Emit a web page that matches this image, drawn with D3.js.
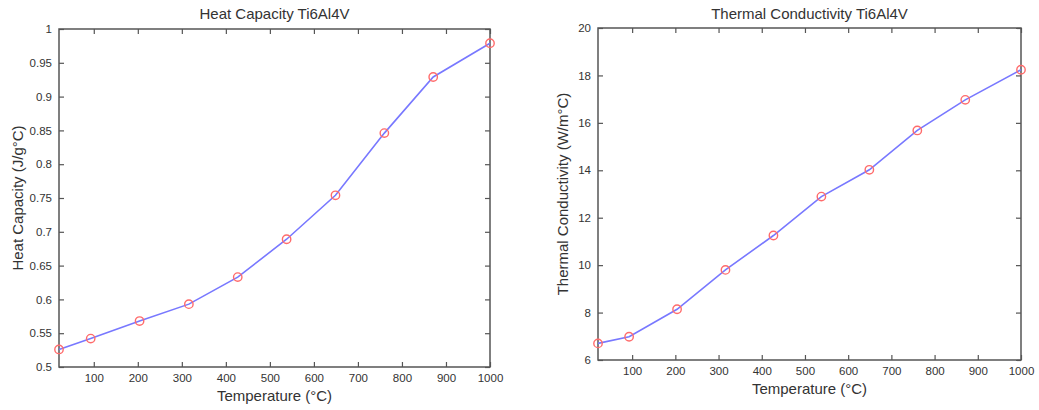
<!DOCTYPE html>
<html>
<head>
<meta charset="utf-8">
<script src="https://cdn.jsdelivr.net/npm/d3@7"></script>
<style>
  body { margin: 0; background: #fff; }
  svg { display: block; font-family: "Liberation Sans", Arial, sans-serif; }
</style>
</head>
<body>
<svg id="chart" width="1039" height="410"></svg>
<script>
// Temperatures (°C) at which the properties were tabulated
const temperatures = [21, 93, 204, 316, 427, 538, 649, 760, 871, 1000];
// Specific heat capacity of Ti6Al4V (J/g°C)
const heatCapacity = [0.526, 0.542, 0.568, 0.593, 0.633, 0.689, 0.754, 0.846, 0.929, 0.979];
// Thermal conductivity of Ti6Al4V (W/m°C)
const conductivity = [6.70, 6.98, 8.14, 9.80, 11.25, 12.89, 14.02, 15.68, 16.97, 18.24];

const xTicks = [100, 200, 300, 400, 500, 600, 700, 800, 900, 1000];
const heatTicks = [0.5, 0.55, 0.6, 0.65, 0.7, 0.75, 0.8, 0.85, 0.9, 0.95, 1];
const condTicks = [6, 8, 10, 12, 14, 16, 18, 20];

const svg = d3.select("#chart");
const axisColor = "#555";
const textColor = "#333";

function drawPanel(cfg) {
  const { left, right, top, bottom } = cfg.box;
  const x = d3.scaleLinear().domain([temperatures[0], 1000]).range([left, right]);
  const y = d3.scaleLinear().domain(cfg.yDomain).range([bottom, top]);
  const g = svg.append("g");
  const tick = 5;

  // Frame with inward ticks on all four sides
  g.append("rect")
    .attr("x", left).attr("y", top)
    .attr("width", right - left).attr("height", bottom - top)
    .attr("fill", "none").attr("stroke", axisColor).attr("stroke-width", 1.5);

  const bottomAxis = d3.axisBottom(x).tickValues(xTicks).tickSize(-tick).tickPadding(7).tickFormat(d3.format("d"));
  const topAxis = d3.axisTop(x).tickValues(xTicks).tickSize(-tick).tickFormat("");
  const leftAxis = d3.axisLeft(y).tickValues(cfg.yTicks).tickSize(-tick).tickPadding(7).tickFormat(d3.format("~g"));
  const rightAxis = d3.axisRight(y).tickValues(cfg.yTicks).tickSize(-tick).tickFormat("");

  const axes = [
    g.append("g").attr("transform", `translate(0,${bottom})`).call(bottomAxis),
    g.append("g").attr("transform", `translate(0,${top})`).call(topAxis),
    g.append("g").attr("transform", `translate(${left},0)`).call(leftAxis),
    g.append("g").attr("transform", `translate(${right},0)`).call(rightAxis)
  ];
  axes.forEach(a => {
    a.select(".domain").remove();
    a.selectAll(".tick line").attr("stroke", axisColor).attr("stroke-width", 1.2);
    a.selectAll(".tick text").attr("fill", textColor).attr("font-size", 11.5)
      .attr("font-family", "Liberation Sans, Arial, sans-serif");
  });

  // Data line
  const line = d3.line().x((d, i) => x(temperatures[i])).y(d => y(d));
  g.append("path").datum(cfg.values)
    .attr("d", line).attr("fill", "none")
    .attr("stroke", "#7878ff").attr("stroke-width", 1.6);

  // Markers at tabulated points
  g.selectAll("circle.pt").data(cfg.values).join("circle")
    .attr("class", "pt")
    .attr("cx", (d, i) => x(temperatures[i])).attr("cy", d => y(d))
    .attr("r", 4.2).attr("fill", "none")
    .attr("stroke", "#ff6b6b").attr("stroke-width", 1.4);

  // Title and axis labels
  g.append("text").attr("x", (left + right) / 2).attr("y", 19)
    .attr("text-anchor", "middle").attr("font-size", 15).attr("fill", textColor)
    .text(cfg.title);
  g.append("text").attr("x", (left + right) / 2).attr("y", bottom + 34)
    .attr("text-anchor", "middle").attr("font-size", 15).attr("fill", textColor)
    .text("Temperature (°C)");
  g.append("text")
    .attr("transform", `translate(${cfg.yLabelX},${(top + bottom) / 2}) rotate(-90)`)
    .attr("text-anchor", "middle").attr("font-size", 15).attr("fill", textColor)
    .text(cfg.yLabel);
}

drawPanel({
  box: { left: 59, right: 490, top: 29, bottom: 367 },
  yDomain: [0.5, 1],
  yTicks: heatTicks,
  values: heatCapacity,
  title: "Heat Capacity Ti6Al4V",
  yLabel: "Heat Capacity (J/g°C)",
  yLabelX: 23
});

drawPanel({
  box: { left: 598, right: 1021, top: 28, bottom: 360 },
  yDomain: [6, 20],
  yTicks: condTicks,
  values: conductivity,
  title: "Thermal Conductivity Ti6Al4V",
  yLabel: "Thermal Conductivity (W/m°C)",
  yLabelX: 568
});
</script>
</body>
</html>
